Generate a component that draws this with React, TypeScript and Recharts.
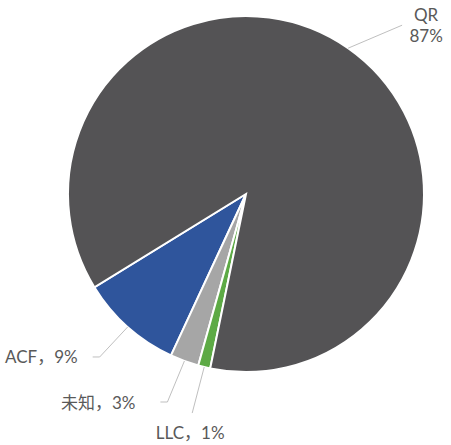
import React from 'react';
import { PieChart, Pie, Cell } from 'recharts';

// slice order follows the pie counter-clockwise from the ACF/QR boundary
const categories = ['ACF', '未知', 'LLC', 'QR'];
const shares = [9.3, 2.6, 1.1, 87.0];
const colors = ['#2F559C', '#A6A6A6', '#5DAA45', '#545355'];

const data = categories.map((name, i) => ({ name, value: shares[i] }));

// leader line layout per label: bend offset from slice edge, horizontal tail, text offset
const LABEL_LAYOUT: Record<
  string,
  { bend: [number, number]; tail: number; text: [number, number]; anchor: 'start' | 'middle' | 'end'; stacked?: boolean }
> = {
  QR: { bend: [54, -23], tail: 0, text: [24, 0], anchor: 'middle', stacked: true },
  ACF: { bend: [-28, 30], tail: -7, text: [-15, 0], anchor: 'end' },
  '未知': { bend: [-17, 41], tail: -7, text: [-25, 0], anchor: 'end' },
  LLC: { bend: [-12, 46], tail: 0, text: [-2, 19], anchor: 'middle' },
};

const RADIAN = Math.PI / 180;
const TEXT_COLOR = '#595959';
const LINE_COLOR = '#BFBFBF';
const FONT_SIZE = 17;

const renderLabel = (props: any) => {
  const { cx, cy, midAngle, outerRadius, name, percent } = props;
  const layout = LABEL_LAYOUT[name];
  if (!layout) return null;
  const sx = cx + outerRadius * Math.cos(-midAngle * RADIAN);
  const sy = cy + outerRadius * Math.sin(-midAngle * RADIAN);
  const bx = sx + layout.bend[0];
  const by = sy + layout.bend[1];
  const ex = bx + layout.tail;
  const tx = ex + layout.text[0];
  const ty = by + layout.text[1];
  const pct = `${Math.round(percent * 100)}%`;

  return (
    <g>
      <polyline
        points={`${sx},${sy} ${bx},${by} ${ex},${by}`}
        fill="none"
        stroke={LINE_COLOR}
        strokeWidth={1}
      />
      {layout.stacked ? (
        <g>
          <text x={tx} y={ty - 10.5} textAnchor={layout.anchor} dominantBaseline="central" fill={TEXT_COLOR} fontSize={FONT_SIZE}>
            {name}
          </text>
          <text x={tx} y={ty + 10.5} textAnchor={layout.anchor} dominantBaseline="central" fill={TEXT_COLOR} fontSize={FONT_SIZE}>
            {pct}
          </text>
        </g>
      ) : (
        <text
          x={tx}
          y={ty}
          textAnchor={layout.anchor}
          dominantBaseline="central"
          fill={TEXT_COLOR}
          fontSize={FONT_SIZE}
        >
          {`${name}，${pct}`}
        </text>
      )}
    </g>
  );
};

const App: React.FC = () => {
  return (
    <div
      style={{
        position: 'absolute',
        top: 0,
        left: 0,
        width: 451,
        height: 445,
        background: '#fff',
        fontFamily: 'Lato, "Noto Sans CJK SC", sans-serif',
      }}
    >
      <PieChart width={451} height={445} margin={{ top: 0, right: 0, bottom: 0, left: 0 }}>
        <Pie
          data={data}
          dataKey="value"
          nameKey="name"
          cx={246}
          cy={194}
          outerRadius={178}
          startAngle={211.6}
          endAngle={571.6}
          stroke="#FFFFFF"
          strokeWidth={2}
          label={renderLabel}
          labelLine={false}
          isAnimationActive={false}
        >
          {data.map((entry, i) => (
            <Cell key={entry.name} fill={colors[i]} />
          ))}
        </Pie>
      </PieChart>
    </div>
  );
};

export default App;
